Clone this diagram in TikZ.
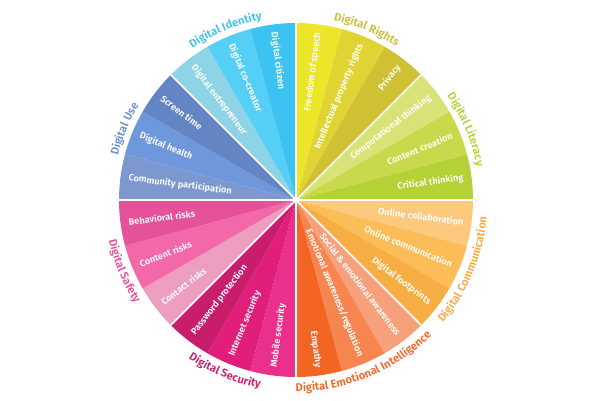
\documentclass[tikz,border=0pt]{standalone}
\usepackage{fontspec}
\setmainfont{Fira Sans}[BoldFont={Fira Sans SemiBold}]
\usetikzlibrary{decorations.text}
\definecolor{idA}{HTML}{3DC3F2}\definecolor{idB}{HTML}{56CFF7}\definecolor{idC}{HTML}{8FD4E6}\definecolor{idL}{HTML}{3CC0EE}
\definecolor{rtA}{HTML}{EDE52A}\definecolor{rtB}{HTML}{DFD433}\definecolor{rtC}{HTML}{CFC133}\definecolor{rtL}{HTML}{C9BD3A}
\definecolor{liA}{HTML}{D9E277}\definecolor{liB}{HTML}{C8DA4C}\definecolor{liC}{HTML}{B4D136}\definecolor{liL}{HTML}{B4D136}
\definecolor{coA}{HTML}{FDC97F}\definecolor{coB}{HTML}{FCBD58}\definecolor{coC}{HTML}{F6AE44}\definecolor{coL}{HTML}{F5AA40}
\definecolor{eiA}{HTML}{F7A07C}\definecolor{eiB}{HTML}{F6854F}\definecolor{eiC}{HTML}{F26522}\definecolor{eiL}{HTML}{F26522}
\definecolor{seA}{HTML}{E9318C}\definecolor{seB}{HTML}{E11F7B}\definecolor{seC}{HTML}{C71D6B}\definecolor{seL}{HTML}{C91C6B}
\definecolor{saA}{HTML}{ED9DC0}\definecolor{saB}{HTML}{F368A9}\definecolor{saC}{HTML}{E5529A}\definecolor{saL}{HTML}{E4509A}
\definecolor{usA}{HTML}{7D98CF}\definecolor{usB}{HTML}{6F97DC}\definecolor{usC}{HTML}{6385C3}\definecolor{usL}{HTML}{6B8FCF}
\newcommand\wfont{\fontsize{9.2}{11}\selectfont\bfseries}
\newcommand\lfont{\fontsize{11.2}{13}\selectfont\bfseries}
\begin{document}
\begin{tikzpicture}[x=1pt,y=1pt,
  wl/.style={text=white, font=\wfont, inner sep=0pt},
  wr/.style={wl, anchor=east},
  wlt/.style={wl, anchor=west},
  sep/.style={white, line width=1.6pt}]
\useasboundingbox (0,0) rectangle (600,400);
\begin{scope}[shift={(296,200)}]
% wedges
\foreach \a/\c in {45/rtC,60/rtB,75/rtA, 0/liC,15/liB,30/liA, -15/coA,-30/coB,-45/coC,
  -60/eiA,-75/eiB,-90/eiC, -105/seA,-120/seB,-135/seC, -150/saA,-165/saB,-180/saC,
  165/usA,150/usB,135/usC, 120/idC,105/idB,90/idA}
  \fill[\c] (0,0) -- (\a:177) arc[start angle=\a, delta angle=15, radius=177] -- cycle;
\coordinate (o) at (0,0);
\foreach \a [count=\i] in {0,45,...,315}
  { \coordinate (e\i) at (\a:177); \draw[sep] (o) -- (e\i); }
% wedge labels, right half
\node[wr, rotate=82.5] (w1) at (82.5:169) {Freedom of speech};
\node[wr, rotate=67.5] (w2) at (67.5:169) {Intellectual property rights};
\node[wr, rotate=52.5] (w3) at (52.5:169) {Privacy};
\node[wr, rotate=37.5] (w4) at (37.5:169) {Computational thinking};
\node[wr, rotate=22.5] (w5) at (22.5:169) {Content creation};
\node[wr, rotate=7.5] (w6) at (7.5:169) {Critical thinking};
\node[wr, rotate=-7.5] (w7) at (-7.5:169) {Online collaboration};
\node[wr, rotate=-22.5] (w8) at (-22.5:169) {Online communication};
\node[wr, rotate=-37.5] (w9) at (-37.5:169) {Digital footprints};
\node[wr, rotate=-52.5] (w10) at (-52.5:169) {Social \& emotional awareness};
\node[wr, rotate=-67.5] (w11) at (-67.5:169) {Emotional awareness/regulation};
\node[wr, rotate=-82.5] (w12) at (-82.5:169) {Empathy};
% wedge labels, left half
\node[wlt, rotate=82.5] (w13) at (-97.5:169) {Mobile security};
\node[wlt, rotate=67.5] (w14) at (-112.5:169) {Internet security};
\node[wlt, rotate=52.5] (w15) at (-127.5:169) {Password protection};
\node[wlt, rotate=37.5] (w16) at (-142.5:169) {Contact risks};
\node[wlt, rotate=22.5] (w17) at (-157.5:169) {Content risks};
\node[wlt, rotate=7.5] (w18) at (-172.5:169) {Behavioral risks};
\node[wlt, rotate=-7.5] (w19) at (172.5:169) {Community participation};
\node[wlt, rotate=-22.5] (w20) at (157.5:169) {Digital health};
\node[wlt, rotate=-37.5] (w21) at (142.5:169) {Screen time};
\node[wlt, rotate=-52.5] (w22) at (127.5:169) {Digital entrepreneur};
\node[wlt, rotate=-67.5] (w23) at (112.5:169) {Digital co-creator};
\node[wlt, rotate=-82.5] (w24) at (97.5:169) {Digital citizen};
% outer labels, upper half (clockwise)
\foreach \m/\c/\t in {67.5/rtL/Digital Rights, 22.5/liL/Digital Literacy,
   112.5/idL/Digital Identity, 157.5/usL/Digital Use}
  \path[decorate, decoration={text along path, text align=center,
     text={|\lfont\color{\c}|\t}}]
     (\m+40:183.5) arc[start angle=\m+40, end angle=\m-40, radius=183.5];
% outer labels, lower half (counterclockwise)
\foreach \m/\c/\t in {-22.5/coL/Digital Communication, -67.5/eiL/Digital Emotional Intelligence,
   -112.5/seL/Digital Security, -157.5/saL/Digital Safety}
  \path[decorate, decoration={text along path, text align=center,
     text={|\lfont\color{\c}|\t}}]
     (\m-40:191.5) arc[start angle=\m-40, end angle=\m+40, radius=191.5];
\end{scope}
\end{tikzpicture}
\end{document}
